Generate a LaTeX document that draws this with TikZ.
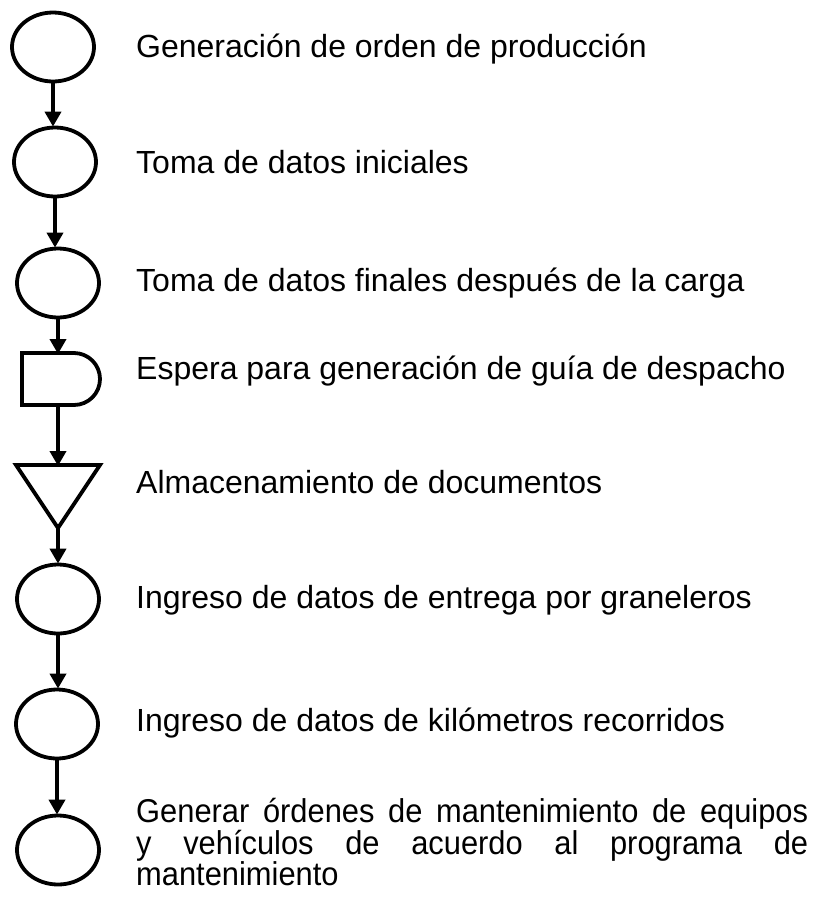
\documentclass[tikz,border=0pt]{standalone}
\usepackage{fontspec}
\setmainfont{Liberation Sans}
\newfontfamily\narrowfont[FakeStretch=0.935]{Liberation Sans}
\usetikzlibrary{arrows.meta,shapes.geometric}
\begin{document}
\begin{tikzpicture}[x=1pt,y=-1pt,
  shp/.style={draw=black,line width=3.8pt},
  oval/.style={shp,ellipse,minimum width=82pt,minimum height=69pt,inner sep=0pt},
  arr/.style={line width=3.8pt,-{Triangle[length=15pt,width=16pt]},shorten >=-1pt},
  lbl/.style={anchor=base west,font=\fontsize{32}{36}\selectfont,inner sep=0pt}]
\useasboundingbox (0,0) rectangle (819,903);
% shapes
\node[oval] (e1) at (53,47) {};
\node[oval] (e2) at (55,162) {};
\node[oval] (e3) at (58,283) {};
\draw[shp] (22,353) -- (74,353) arc[start angle=-90,end angle=90,radius=26] -- (22,405) -- cycle;
\coordinate (dtop) at (58,353);
\coordinate (dbot) at (58,405);
\draw[shp,line join=miter] (16,465) -- (100,465) -- (58,528) -- cycle;
\coordinate (ttop) at (58,465);
\coordinate (tbot) at (58,528);
\node[oval] (e6) at (58,599) {};
\node[oval] (e7) at (57,724) {};
\node[oval] (e8) at (58,850) {};
% arrows
\draw[arr] (e1.south) -- (e1.south |- e2.north);
\draw[arr] (e2.south) -- (e2.south |- e3.north);
\draw[arr] (e3.south) -- (e3.south |- dtop);
\draw[arr] (dbot) -- (ttop);
\draw[arr] (tbot) -- (tbot |- e6.north);
\draw[arr] (e6.south) -- (e6.south |- e7.north);
\draw[arr] (e7.south) -- (e7.south |- e8.north);
% labels
\node[lbl] (t1) at (136,57) {Generación de orden de producción};
\node[lbl] (t2) at (136,173) {Toma de datos iniciales};
\node[lbl] (t3) at (136,291) {Toma de datos finales después de la carga};
\node[lbl] (t4) at (136,379) {Espera para generación de guía de despacho};
\node[lbl] (t5) at (136,493) {Almacenamiento de documentos};
\node[lbl] (t6) at (136,608) {Ingreso de datos de entrega por graneleros};
\node[lbl] (t7) at (136,731) {Ingreso de datos de kilómetros recorridos};
\node[anchor=north west,inner sep=0pt,align=left,font=\narrowfont\fontsize{33}{31.5}\selectfont] (t8) at (136,798) {\makebox[672pt][s]{Generar órdenes de mantenimiento de equipos}\\
\makebox[672pt][s]{y vehículos de acuerdo al programa de}\\
mantenimiento};
\end{tikzpicture}
\end{document}
